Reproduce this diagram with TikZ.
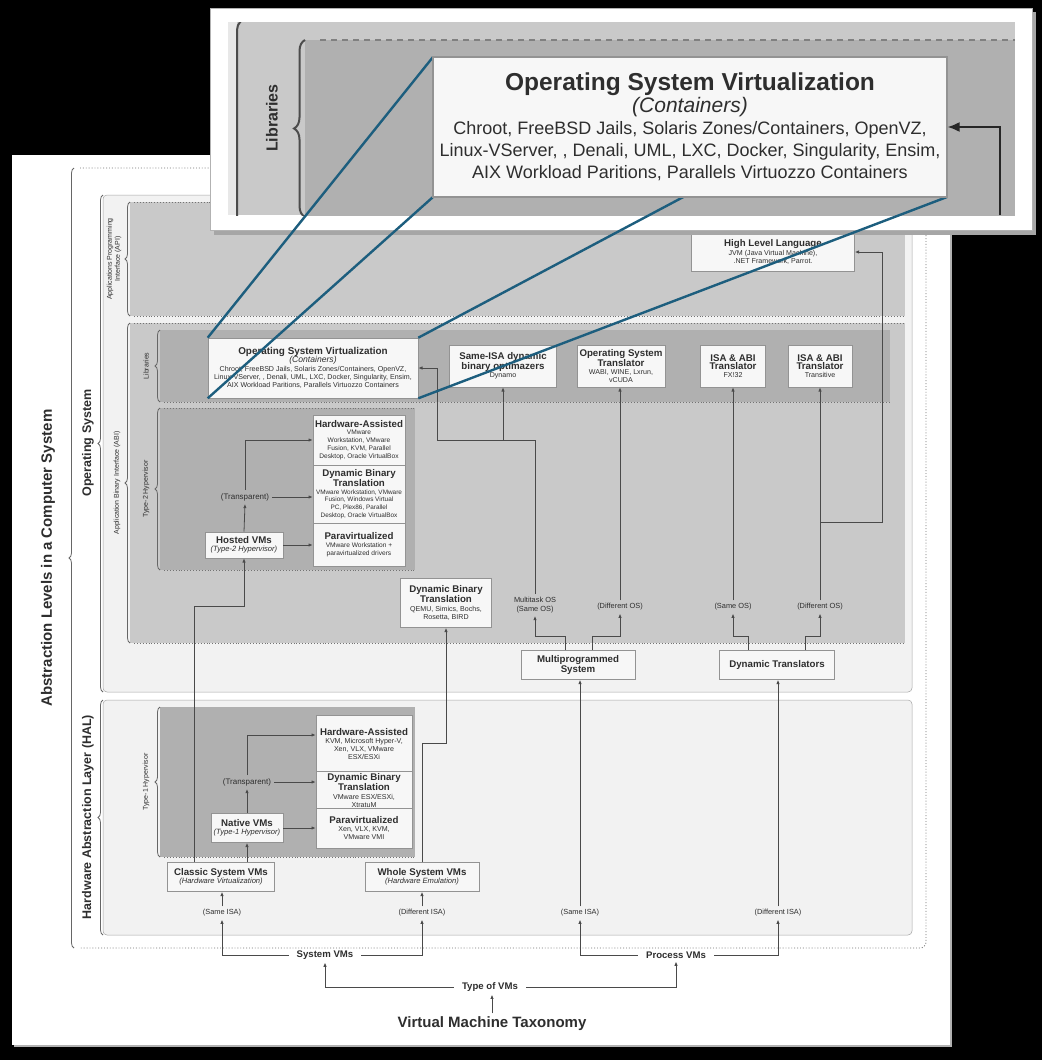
\documentclass[tikz,border=0pt]{standalone}
\usepackage{fontspec}
\setmainfont{Liberation Sans}
\usetikzlibrary{positioning,arrows.meta,decorations.pathreplacing,calc}
\definecolor{inkgray}{HTML}{2E2E2E}
\definecolor{wiregray}{HTML}{4A4A4A}
\definecolor{lensblue}{HTML}{1D5E7E}
\newcommand{\boxtitle}{\fontsize{9.7}{11}\selectfont\bfseries}
\newcommand{\boxsub}{\fontsize{7.6}{9}\selectfont\itshape}
\tikzset{
  vmarrow/.style={-{Latex[length=4.2pt,width=3.4pt]}, line width=0.8pt, draw=wiregray},
  vmline/.style={line width=0.8pt, draw=wiregray},
  bigarrow/.style={-{Latex[length=12pt,width=10pt]}, line width=1.8pt, draw=black!85},
  vmbox/.style={draw=gray!85, fill=gray!6, line width=0.6pt, align=center, inner sep=2pt, text=inkgray, font=\fontsize{7.1}{8.3}\selectfont},
  tag/.style={align=center, text=inkgray, inner sep=3pt, font=\fontsize{7.4}{8.6}\selectfont},
  branch/.style={align=center, text=inkgray, inner xsep=8pt, inner ysep=3pt, font=\fontsize{9.6}{11}\selectfont\bfseries},
  sidelabel/.style={rotate=90, align=center, text=inkgray, inner sep=1pt, font=\fontsize{7}{8}\selectfont},
  levellabel/.style={rotate=90, text=inkgray, inner sep=1pt, font=\fontsize{12.5}{14}\selectfont\bfseries},
  paleband/.style={fill=gray!10, draw=gray!70, line width=0.5pt},
  midband/.style={fill=gray!42},
  darkband/.style={fill=gray!62},
  dotedge/.style={dotted, line width=0.9pt, draw=black!55},
  bracket/.style={decorate, decoration={brace, amplitude=5pt}, line width=0.8pt, draw=black!60},
  lens/.style={line width=2.4pt, draw=lensblue}
}

\begin{document}
\begin{tikzpicture}[x=1pt, y=-1pt]
\useasboundingbox (0,0) rectangle (1042,1060);
\fill[black] (0,0) rectangle (1042,1060);
% sheet
\fill[gray!60] (14,157) rectangle (952,1047);
\fill[white] (12,155) rectangle (950,1045);

% abstraction levels
\draw[dotedge, rounded corners=6pt] (80,168) -- (926,168) -- (926,948) -- (80,948);
\draw[bracket] (74,948) -- (74,168);
\node[levellabel, font=\fontsize{15}{17}\selectfont\bfseries] (abslbl) at (48,558) {Abstraction Levels in a Computer System};

% operating system
\draw[paleband, rounded corners=4pt] (103,195) rectangle (912,692);
\draw[bracket] (103,692) -- (103,195);
\node[levellabel] (oslbl) at (88,443) {Operating System};

\fill[midband] (130,202) rectangle (905,316);
\draw[dotedge] (134,202) -- (905,202);
\draw[dotedge] (134,316) -- (905,316);
\draw[bracket] (130,316) -- (130,202);
\node[sidelabel] (apilbl) at (114,259) {Applications Programming\\Interface (API)};

\fill[midband] (130,323) rectangle (905,643);
\draw[dotedge] (134,323) -- (905,323);
\draw[dotedge] (134,643) -- (905,643);
\draw[bracket] (130,643) -- (130,323);
\node[sidelabel] (abilbl) at (117,483) {Application Binary Interface (ABI)};

\fill[darkband] (160,330) rectangle (890,402);
\draw[dotedge] (164,402) -- (890,402);
\draw[bracket] (160,402) -- (160,330);
\node[sidelabel] (liblbl) at (146,366) {Libraries};

\fill[darkband] (160,408) rectangle (415,570);
\draw[dotedge] (164,408) -- (415,408);
\draw[dotedge] (164,570) -- (415,570);
\draw[bracket] (160,570) -- (160,408);
\node[sidelabel] (t2lbl) at (146,489) {Type-2 Hypervisor};

% hardware abstraction layer
\draw[paleband, rounded corners=4pt] (103,700) rectangle (912,935);
\draw[bracket] (103,935) -- (103,700);
\node[levellabel] (hallbl) at (88,817) {Hardware Abstraction Layer (HAL)};

\fill[darkband] (160,707) rectangle (415,857);
\draw[dotedge] (164,857) -- (415,857);
\draw[bracket] (160,857) -- (160,707);
\node[sidelabel] (t1lbl) at (146,782) {Type-1 Hypervisor};

% API / libraries row
\node[vmbox, minimum width=163pt, minimum height=39pt] (hll) at (773,252) {{\boxtitle High Level Language}\\JVM (Java Virtual Machine),\\.NET Framework, Parrot.};
\node[vmbox, minimum width=210pt, minimum height=60pt, font=\fontsize{7.1}{8.4}\selectfont] (osv) at (313,368) {{\fontsize{9.9}{11}\selectfont\bfseries Operating System Virtualization}\\{\fontsize{8.6}{10}\selectfont\itshape (Containers)}\\Chroot, FreeBSD Jails, Solaris Zones/Containers, OpenVZ,\\Linux-VServer, , Denali, UML, LXC, Docker, Singularity, Ensim,\\AIX Workload Paritions, Parallels Virtuozzo Containers};
\node[vmbox, minimum width=107pt, minimum height=42pt] (sameisa) at (503,366) {{\boxtitle Same-ISA dynamic}\\{\boxtitle binary optimazers}\\Dynamo};
\node[vmbox, minimum width=88pt, minimum height=42pt] (ostr) at (621,366) {{\boxtitle Operating System}\\{\boxtitle Translator}\\WABI, WINE, Lxrun,\\vCUDA};
\node[vmbox, minimum width=65pt, minimum height=42pt] (fx) at (733,366) {{\boxtitle ISA \& ABI}\\{\boxtitle Translator}\\FX!32};
\node[vmbox, minimum width=64pt, minimum height=42pt] (trans) at (820,366) {{\boxtitle ISA \& ABI}\\{\boxtitle Translator}\\Transitive};

% type-2 hypervisor
\node[vmbox, minimum width=92pt, minimum height=50pt, font=\fontsize{6.6}{7.9}\selectfont] (hwa2) at (359,440) {{\boxtitle Hardware-Assisted}\\VMware\\Workstation, VMware\\Fusion, KVM, Parallel\\Desktop, Oracle VirtualBox};
\node[vmbox, minimum width=92pt, minimum height=58pt, font=\fontsize{6.4}{7.6}\selectfont] (dbt2) at (359,494) {{\boxtitle Dynamic Binary}\\{\boxtitle Translation}\\VMware Workstation, VMware\\Fusion, Windows Virtual\\PC, Plex86, Parallel\\Desktop, Oracle VirtualBox};
\node[vmbox, minimum width=92pt, minimum height=43pt, font=\fontsize{6.6}{7.9}\selectfont] (para2) at (359,544.5) {{\boxtitle Paravirtualized}\\VMware Workstation +\\paravirtualized drivers};
\node[vmbox, minimum width=78pt, minimum height=26pt] (hosted) at (244,545) {{\boxtitle Hosted VMs}\\{\boxsub (Type-2 Hypervisor)}};
\node[tag, font=\fontsize{8}{9}\selectfont] (tr2) at (245,497) {(Transparent)};

% process VMs
\node[vmbox, minimum width=91pt, minimum height=49pt] (dbtw) at (446,603) {{\boxtitle Dynamic Binary}\\{\boxtitle Translation}\\QEMU, Simics, Bochs,\\Rosetta, BIRD};
\node[tag] (mtos) at (535,605) {Multitask OS\\(Same OS)};
\node[tag] (dos1) at (620,607) {(Different OS)};
\node[tag] (sos) at (733,607) {(Same OS)};
\node[tag] (dos2) at (820,607) {(Different OS)};
\node[vmbox, minimum width=114pt, minimum height=29pt] (multi) at (578,665) {{\boxtitle Multiprogrammed}\\{\boxtitle System}};
\node[vmbox, minimum width=115pt, minimum height=29pt] (dyntr) at (777,665) {{\boxtitle Dynamic Translators}};

% type-1 hypervisor
\node[vmbox, minimum width=96pt, minimum height=58pt] (hwa1) at (364,744) {{\boxtitle Hardware-Assisted}\\KVM, Microsoft Hyper-V,\\Xen, VLX, VMware\\ESX/ESXi};
\node[vmbox, minimum width=96pt, minimum height=35pt] (dbt1) at (364,790.5) {{\boxtitle Dynamic Binary}\\{\boxtitle Translation}\\VMware ESX/ESXi,\\XtratuM};
\node[vmbox, minimum width=96pt, minimum height=40pt] (para1) at (364,828) {{\boxtitle Paravirtualized}\\Xen, VLX, KVM,\\VMware VMI};
\node[vmbox, minimum width=72pt, minimum height=29pt] (native) at (247,828) {{\boxtitle Native VMs}\\{\boxsub (Type-1 Hypervisor)}};
\node[tag, font=\fontsize{8}{9}\selectfont] (tr1) at (247,782) {(Transparent)};

% system VMs
\node[vmbox, minimum width=107pt, minimum height=29pt] (classic) at (221,877) {{\boxtitle Classic System VMs}\\{\boxsub (Hardware Virtualization)}};
\node[vmbox, minimum width=114pt, minimum height=29pt] (whole) at (422,877) {{\boxtitle Whole System VMs}\\{\boxsub (Hardware Emulation)}};

% taxonomy
\node[tag] (sisa1) at (222,913) {(Same ISA)};
\node[tag] (disa1) at (422,913) {(Different ISA)};
\node[tag] (sisa2) at (580,913) {(Same ISA)};
\node[tag] (disa2) at (778,913) {(Different ISA)};
\node[branch] (sysvm) at (325,955) {System VMs};
\node[branch] (procvm) at (676,955) {Process VMs};
\node[branch] (types) at (490,987) {Type of VMs};
\node[text=inkgray, font=\fontsize{15}{18}\selectfont\bfseries] (vmt) at (492,1024) {Virtual Machine Taxonomy};

\draw[vmarrow] (vmt.north) -- (vmt.north |- types.south);
\draw[vmarrow] (types.west) -| (sysvm.south);
\draw[vmarrow] (types.east) -| (procvm.south);
\draw[vmarrow] (sysvm.west) -| (sisa1.south);
\draw[vmarrow] (sysvm.east) -| (disa1.south);
\draw[vmarrow] (procvm.west) -| (sisa2.south);
\draw[vmarrow] (procvm.east) -| (disa2.south);
\draw[vmarrow] (sisa1.north) -- (sisa1.north |- classic.south);
\draw[vmarrow] (disa1.north) -- (disa1.north |- whole.south);
\draw[vmarrow] (sisa2.north) -- (sisa2.north |- multi.south);
\draw[vmarrow] (disa2.north) -- (disa2.north |- dyntr.south);

\draw[vmarrow] (native.south |- classic.north) -- (native.south);
\draw[vmarrow] (native.north) -- (tr1.south);
\draw[vmarrow] (native.east) -- (native.east -| para1.west);
\draw[vmarrow] (tr1.east) -- (tr1.east -| dbt1.west);
\draw[vmarrow] (tr1.north) |- ($(hwa1.west)+(0,-9)$);

\draw[vmarrow] ($(classic.north west)+(27,0)$) -- ++(0,-256) -| (hosted.south);
\draw[vmarrow] (hosted.north) -- (tr2.south);
\draw[vmarrow] (hosted.east) -- (hosted.east -| para2.west);
\draw[vmarrow] (tr2.east) -- (tr2.east -| dbt2.west);
\draw[vmarrow] (tr2.north) |- (hwa2.west);

\coordinate (wholek) at (422,743);
\draw[vmarrow] (whole.north) -- (wholek) -| (dbtw.south);

\draw[vmarrow] ($(multi.north)+(-13,0)$) -- ++(0,-14) -| (mtos.south);
\draw[vmarrow] ($(multi.north)+(14,0)$) -- ++(0,-14) -| (dos1.south);
\draw[vmarrow] ($(dyntr.north)+(-29,0)$) -- ++(0,-14) -| (sos.south);
\draw[vmarrow] ($(dyntr.north)+(28,0)$) -- ++(0,-14) -| (dos2.south);

\coordinate (mtosk) at (535,440);
\coordinate (osvk) at (437,368);
\draw[vmline] (mtos.north) -- (mtosk);
\draw[vmarrow] (mtosk) -| (sameisa.south);
\draw[vmarrow] (mtosk) -| (osvk) -- (osv.east);
\draw[vmarrow] (dos1.north) -- (dos1.north |- ostr.south);
\draw[vmarrow] (sos.north) -- (sos.north |- fx.south);
\draw[vmarrow] (dos2.north) -- (dos2.north |- trans.south);
\coordinate (dos2k) at (820,522);
\coordinate (hllk) at (882,252);
\draw[vmarrow] (dos2k) -| (hllk) -- (hll.east);

% zoom inset
\fill[gray!70] (214,12) rectangle (1036,235);
\fill[white] (210,8) rectangle (1032,230);
\draw[gray!60, line width=0.5pt] (210,8) rectangle (1032,230);
\begin{scope}
  \clip (228,22) rectangle (1015,215);
  \fill[gray!18] (228,22) rectangle (1015,215);
  \fill[midband] (237,18) rectangle (1015,215);
  \draw[line width=2pt, draw=black!70, rounded corners=12pt] (237,240) -- (237,18) -- (270,18);
  \fill[darkband] (305,40) rectangle (1015,217);
  \draw[line width=1.2pt, draw=black!50, dash pattern=on 6pt off 5pt] (320,40) -- (1015,40);
  \draw[bracket, decoration={brace, amplitude=11pt}, line width=2pt, draw=black!70] (305,217) -- (305,40);
\end{scope}
\node[rotate=90, text=inkgray, font=\fontsize{16}{19}\selectfont\bfseries] (libbig) at (272,118) {Libraries};

\coordinate (bigNW) at (433,57);
\coordinate (bigNE) at (947,57);
\coordinate (bigSW) at (433,197);
\coordinate (bigSE) at (947,197);
\draw[lens] (osv.north west) -- (bigNW);
\draw[lens] (osv.south west) -- (bigSW);
\draw[lens] (osv.north east) -- (bigNE);
\draw[lens] (osv.south east) -- (bigSE);

\node[vmbox, line width=1.2pt, minimum width=514pt, minimum height=140pt, font=\fontsize{18}{22}\selectfont] (osvbig) at (690,127) {{\fontsize{24.5}{28}\selectfont\bfseries Operating System Virtualization}\\{\fontsize{21}{25}\selectfont\itshape (Containers)}\\Chroot, FreeBSD Jails, Solaris Zones/Containers, OpenVZ,\\Linux-VServer, , Denali, UML, LXC, Docker, Singularity, Ensim,\\AIX Workload Paritions, Parallels Virtuozzo Containers};
\coordinate (bigk) at (1000,215);
\draw[bigarrow] (bigk) |- (osvbig.east);
\end{tikzpicture}
\end{document}
